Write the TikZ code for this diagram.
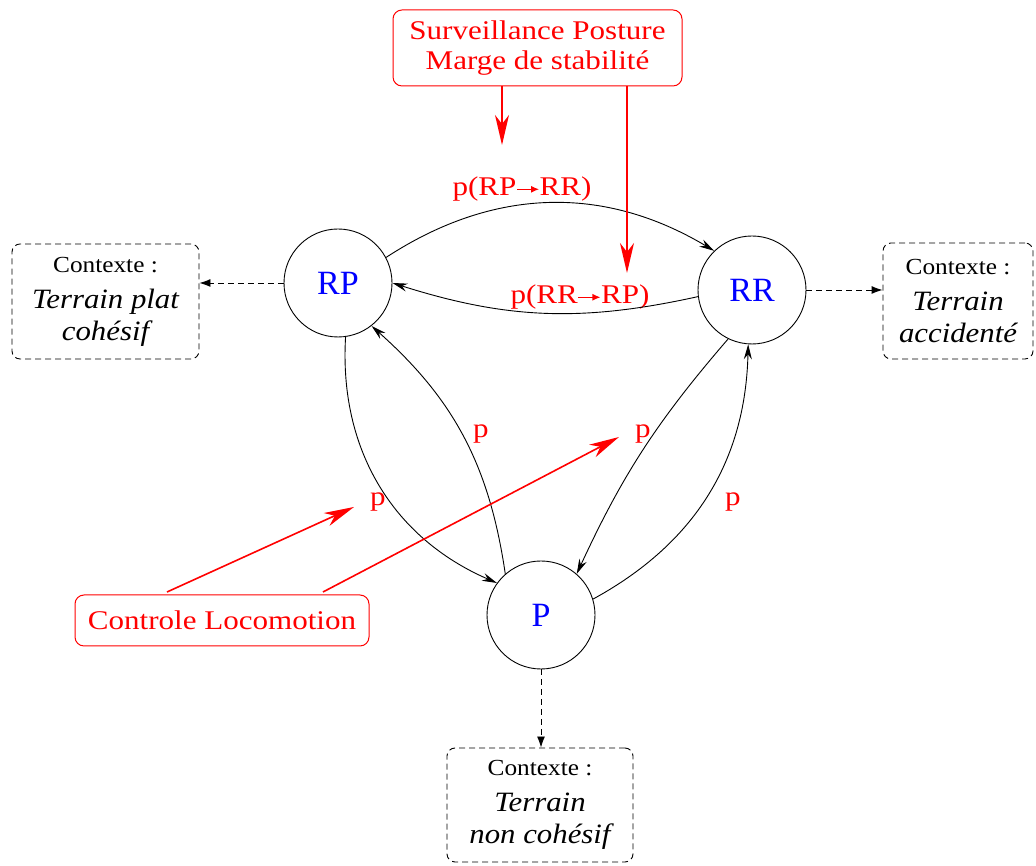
\documentclass[tikz,border=0pt]{standalone}
\usepackage{fontspec}
\setmainfont{Liberation Serif}
\newfontfamily\redfont[FakeStretch=1.15]{Liberation Serif}
\newfontfamily\stfont[FakeStretch=1.1]{Liberation Serif}
\usetikzlibrary{arrows.meta,calc}
\definecolor{myred}{RGB}{255,0,0}
\definecolor{myblue}{RGB}{0,0,255}
\newcommand{\smallarr}{\tikz[baseline=-0.5ex]\draw[myred,line width=1.2pt,-{Latex[length=8pt,width=7pt]}] (0pt,0pt)--(22pt,0pt);}
\begin{document}
\begin{tikzpicture}[x=1pt,y=1pt,
 state/.style={circle,draw,line width=0.9pt,minimum size=108pt,inner sep=0pt,text=myblue,font=\fontsize{34}{34}\selectfont},
 ctx/.style={draw,dash pattern=on 6pt off 4pt,rounded corners=8pt,line width=0.9pt,align=center,inner sep=0pt,font=\stfont\itshape\fontsize{28}{32}\selectfont},
 redbox/.style={draw=myred,rounded corners=9pt,line width=1pt,text=myred,align=center,font=\redfont\fontsize{27}{30}\selectfont,inner sep=0pt},
 trans/.style={line width=0.9pt,-{Stealth[length=15pt,width=8pt,inset=5pt]}},
 ctxarrow/.style={line width=0.9pt,dash pattern=on 6pt off 4pt,-{Latex[length=11pt,width=8pt]}},
 redarrow/.style={myred,line width=1.6pt,-{Stealth[length=30pt,width=14pt,inset=9pt]}},
 lab/.style={text=myred,font=\redfont\fontsize{27}{27}\selectfont,inner sep=0pt},
]
\fill[white] (0,0) rectangle (1036,866);
\useasboundingbox (0,0) rectangle (1036,866);

% states
\node[state] (RP) at (338,583) {RP};
\node[state] (RR) at (752,576) {RR};
\node[state] (P) at (541,251) {P};

% context boxes
\node[ctx,minimum width=187pt,minimum height=115pt] (lctx) at (105.5,564.5)
  {{\upshape\fontsize{23}{32}\selectfont Contexte :}\\[4pt] Terrain plat\\ cohésif};
\node[ctx,minimum width=150pt,minimum height=116pt] (rctx) at (958,565)
  {{\upshape\fontsize{23}{32}\selectfont Contexte :}\\[4pt] Terrain\\ accidenté};
\node[ctx,minimum width=186pt,minimum height=114pt] (bctx) at (540,61)
  {{\upshape\fontsize{23}{32}\selectfont Contexte :}\\[4pt] Terrain\\ non cohésif};

% red boxes
\node[redbox,minimum width=289pt,minimum height=76pt] (surv) at (537.5,818)
  {Surveillance Posture\\ Marge de stabilité};
\node[redbox,minimum width=294pt,minimum height=51pt] (ctrl) at (222,245.5)
  {Controle Locomotion};

% labels
\node[lab] (l1) at (522,677) {p(RP\smallarr RR)};
\node[lab] (l2) at (580,569) {p(RR\smallarr RP)};
\node[lab] (p1) at (378,364) {p};
\node[lab] (p2) at (481,432) {p};
\node[lab] (p3) at (643,432) {p};
\node[lab] (p4) at (733,364) {p};

% transitions
\draw[trans] (RP.28) to[bend left=32] (RR.134);
\draw[trans] (RR.187) to[bend left=15] (RP.0);
\draw[trans] (RP.278) to[bend right=35] (P.144);
\draw[trans] (P.131) to[bend right=20] (RP.308);
\draw[trans] (RR.244) to[bend right=8] (P.49);
\draw[trans] (P.17) to[bend right=30] (RR.266);

% context arrows
\draw[ctxarrow] (RP.west) -- (RP.west -| lctx.east);
\draw[ctxarrow] (RR.east) -- (RR.east -| rctx.west);
\draw[ctxarrow] (P.south) -- (P.south |- bctx.north);

% red arrows
\coordinate (ta) at (502,721);
\coordinate (tb) at (627,593);
\draw[redarrow] (surv.south -| ta) -- (ta);
\draw[redarrow] (surv.south -| tb) -- (tb);
\coordinate (ca) at (167,274);
\coordinate (cb) at (323,274);
\coordinate (ea) at (354,359);
\coordinate (eb) at (619,429);
\draw[redarrow] (ca) -- (ea);
\draw[redarrow] (cb) -- (eb);
\end{tikzpicture}
\end{document}
